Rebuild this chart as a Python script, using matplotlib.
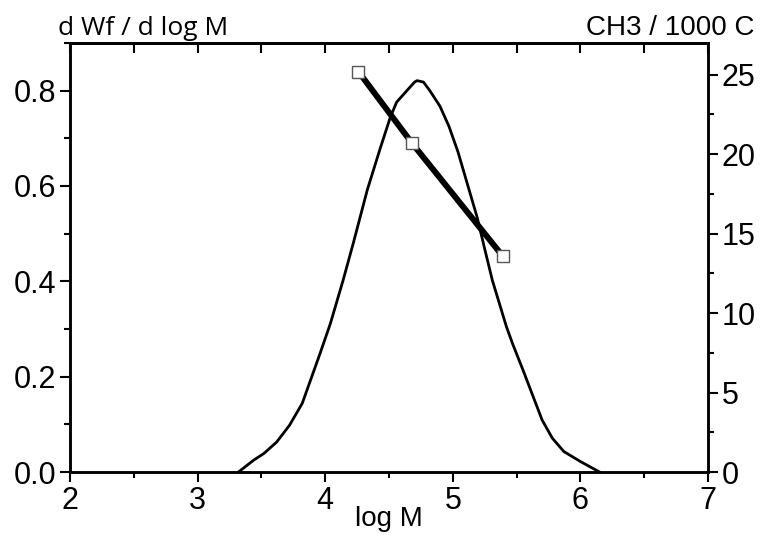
import numpy as np
import matplotlib
matplotlib.use("Agg")
import matplotlib.pyplot as plt
from matplotlib.ticker import MultipleLocator

plt.rcParams['font.family'] = ['Liberation Sans', 'DejaVu Sans']

# molecular weight distribution (left axis)
log_m = [3.32, 3.44, 3.52, 3.62, 3.72, 3.82, 3.88, 3.96, 4.04, 4.14,
         4.22, 4.33, 4.43, 4.51, 4.56, 4.64, 4.70, 4.72, 4.77, 4.82,
         4.90, 4.97, 5.04, 5.11, 5.19, 5.25, 5.31, 5.36, 5.42, 5.47,
         5.55, 5.63, 5.70, 5.78, 5.87, 6.00, 6.15]
dwf = [0.0, 0.025, 0.039, 0.063, 0.098, 0.144, 0.189, 0.249, 0.311, 0.402,
       0.480, 0.592, 0.678, 0.744, 0.776, 0.800, 0.818, 0.821, 0.818, 0.800,
       0.767, 0.725, 0.672, 0.608, 0.535, 0.468, 0.402, 0.358, 0.305, 0.268,
       0.214, 0.158, 0.109, 0.071, 0.043, 0.022, 0.0]

# branching (right axis)
br_logm = [4.26, 4.68, 5.39]
br_ch3 = [25.2, 20.7, 13.6]

fig = plt.figure(figsize=(7.71, 5.40), dpi=100)
ax = fig.add_axes([0.0908, 0.1259, 0.8275, 0.7945])

ax.plot(log_m, dwf, color='black', lw=2.0, zorder=3)
ax.set_xlim(2, 7)
ax.set_ylim(0, 0.9)
ax.xaxis.set_major_locator(MultipleLocator(1))
ax.xaxis.set_minor_locator(MultipleLocator(0.5))
ax.yaxis.set_major_locator(MultipleLocator(0.2))
ax.yaxis.set_minor_locator(MultipleLocator(0.1))
ax.yaxis.set_major_formatter(matplotlib.ticker.FormatStrFormatter('%.1f'))
ax.tick_params(which='both', direction='out', width=1.5, labelsize=22, top=False, right=False)
ax.tick_params(which='major', length=7, pad=3)
ax.tick_params(which='minor', length=4)
for s in ax.spines.values():
    s.set_linewidth(1.8)

top = ax.secondary_xaxis('top')
top.xaxis.set_major_locator(MultipleLocator(0.5))
top.tick_params(direction='in', length=7, width=1.5, labeltop=False)
top.spines['top'].set_linewidth(1.8)

ax2 = ax.twinx()
ax2.plot(br_logm, br_ch3, color='black', lw=4.3, zorder=3)
ax2.plot(br_logm, br_ch3, ls='none', marker='s', ms=8, mfc='white',
         mec='#555555', mew=1.0, zorder=4)
ax2.set_ylim(0, 27)
ax2.yaxis.set_major_locator(MultipleLocator(5))
ax2.yaxis.set_minor_locator(MultipleLocator(2.5))
ax2.tick_params(which='both', direction='out', width=1.5, labelsize=22)
ax2.tick_params(which='major', length=7, pad=3)
ax2.tick_params(which='minor', length=4)
for s in ax2.spines.values():
    s.set_linewidth(1.8)

fig.text(58 / 771, 1 - 35 / 540, 'd Wf / d log M', fontsize=19,
         family=['Open Sans', 'DejaVu Sans'], ha='left', va='baseline')
fig.text(754 / 771, 1 - 35 / 540, 'CH3 / 1000 C', fontsize=20, ha='right', va='baseline')
fig.text(389 / 771, 1 - 526 / 540, 'log M', fontsize=20, ha='center', va='baseline')

fig.savefig('out.png', dpi=100)
